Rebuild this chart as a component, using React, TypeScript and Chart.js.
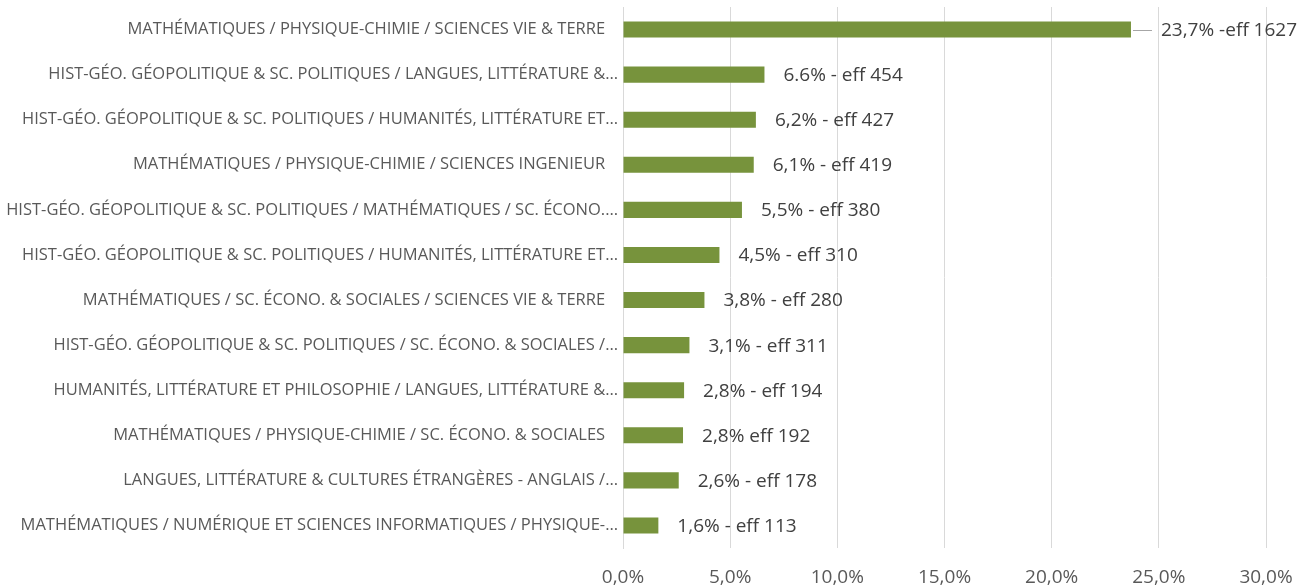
import React, { useEffect, useRef } from "react";
import { Chart, registerables } from "chart.js";

Chart.register(...registerables);

const FONT = "'Open Sans', sans-serif";

const categories = [
  "MATHÉMATIQUES / PHYSIQUE-CHIMIE / SCIENCES VIE & TERRE   ",
  "HIST-GÉO. GÉOPOLITIQUE & SC. POLITIQUES / LANGUES, LITTÉRATURE &…",
  "HIST-GÉO. GÉOPOLITIQUE & SC. POLITIQUES / HUMANITÉS, LITTÉRATURE ET…",
  "MATHÉMATIQUES / PHYSIQUE-CHIMIE / SCIENCES INGENIEUR   ",
  "HIST-GÉO. GÉOPOLITIQUE & SC. POLITIQUES / MATHÉMATIQUES / SC. ÉCONO.…",
  "HIST-GÉO. GÉOPOLITIQUE & SC. POLITIQUES / HUMANITÉS, LITTÉRATURE ET…",
  "MATHÉMATIQUES / SC. ÉCONO. & SOCIALES / SCIENCES VIE & TERRE   ",
  "HIST-GÉO. GÉOPOLITIQUE & SC. POLITIQUES / SC. ÉCONO. & SOCIALES /…",
  "HUMANITÉS, LITTÉRATURE ET PHILOSOPHIE / LANGUES, LITTÉRATURE &…",
  "MATHÉMATIQUES / PHYSIQUE-CHIMIE / SC. ÉCONO. & SOCIALES   ",
  "LANGUES, LITTÉRATURE & CULTURES ÉTRANGÈRES - ANGLAIS /…",
  "MATHÉMATIQUES / NUMÉRIQUE ET SCIENCES INFORMATIQUES / PHYSIQUE-…",
];

const percentValues = [23.7, 6.6, 6.2, 6.1, 5.55, 4.5, 3.8, 3.1, 2.85, 2.8, 2.6, 1.65];

const valueLabels = [
  "23,7% -eff 1627",
  "6.6% - eff 454",
  "6,2% - eff 427",
  "6,1% - eff 419",
  "5,5% - eff 380",
  "4,5% - eff 310",
  "3,8% - eff 280",
  "3,1% - eff 311",
  "2,8% - eff 194",
  "2,8% eff 192",
  "2,6% - eff 178",
  "1,6% - eff 113",
];

const xMin = 0;
const xMax = 30;
const xStep = 5;

const barLabelPlugin = {
  id: "barLabels",
  afterDatasetsDraw(chart: any) {
    const ctx = chart.ctx;
    const meta = chart.getDatasetMeta(0);
    ctx.save();
    ctx.font = `19px ${FONT}`;
    ctx.fillStyle = "#404040";
    ctx.textBaseline = "middle";
    ctx.textAlign = "left";
    meta.data.forEach((el: any, i: number) => {
      const { x, y } = el.getProps(["x", "y"], true);
      let tx = x + 19;
      if (i === 0) {
        ctx.strokeStyle = "#a6a6a6";
        ctx.lineWidth = 1;
        ctx.beginPath();
        ctx.moveTo(x + 2, Math.round(y) + 0.5);
        ctx.lineTo(x + 21, Math.round(y) + 0.5);
        ctx.stroke();
        tx = x + 30;
      }
      ctx.fillText(valueLabels[i], tx, y + 1);
    });
    ctx.restore();
  },
};

export default function App() {
  const canvasRef = useRef<HTMLCanvasElement | null>(null);

  useEffect(() => {
    if (!canvasRef.current) return;
    Chart.defaults.font.family = FONT;
    const chart = new Chart(canvasRef.current, {
      type: "bar",
      data: {
        labels: categories,
        datasets: [
          {
            data: percentValues,
            backgroundColor: "#77933C",
            borderWidth: 0,
            categoryPercentage: 1,
            barPercentage: 0.355,
          },
        ],
      },
      options: {
        indexAxis: "y",
        animation: false,
        responsive: true,
        maintainAspectRatio: false,
        layout: { padding: { top: 7, right: 34, left: 0, bottom: 0 } },
        plugins: {
          legend: { display: false },
          tooltip: { enabled: false },
        },
        scales: {
          x: {
            min: xMin,
            max: xMax,
            ticks: {
              stepSize: xStep,
              color: "#595959",
              font: { size: 19, family: FONT },
              padding: 18,
              maxRotation: 0,
              callback: (v: any) => Number(v).toFixed(1).replace(".", ",") + "%",
            },
            grid: { color: "#d9d9d9", lineWidth: 1, drawTicks: false },
            border: { display: false },
            afterFit: (scale: any) => {
              scale.height = 38;
              scale.paddingLeft = 0;
              scale.paddingRight = 0;
            },
          },
          y: {
            ticks: {
              color: "#595959",
              font: { size: 16.5, family: FONT },
              padding: 5,
              autoSkip: false,
            },
            grid: { display: false, drawTicks: false },
            border: { display: true, color: "#d9d9d9", width: 1 },
            afterFit: (scale: any) => {
              scale.width = 623;
              scale.paddingTop = 0;
              scale.paddingBottom = 0;
            },
          },
        },
      },
      plugins: [barLabelPlugin],
    });
    return () => chart.destroy();
  }, []);

  return (
    <div style={{ position: "fixed", left: 0, top: 0, width: 1300, height: 586, background: "#fff" }}>
      <canvas ref={canvasRef} />
    </div>
  );
}
